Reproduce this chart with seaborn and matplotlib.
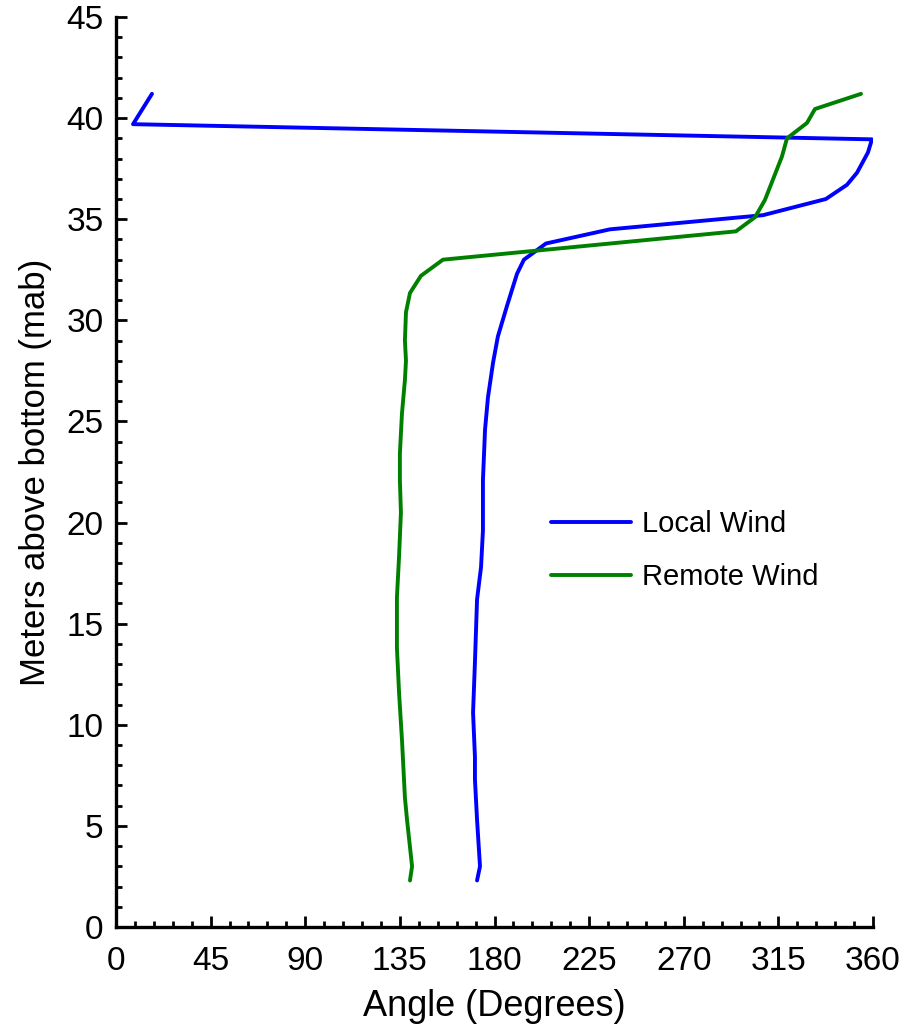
import numpy as np
import pandas as pd
import matplotlib
matplotlib.use("Agg")
import matplotlib.pyplot as plt
from matplotlib.ticker import MultipleLocator
import seaborn as sns

# ---- data ----
local_depth = [2.3, 3.0, 5.3, 7.3, 8.4, 10.6, 13.1, 16.2, 17.8, 19.6, 22.1, 24.6,
               26.2, 27.9, 29.2, 30.7, 32.3, 33.0, 33.8, 34.5, 35.2, 36.0, 36.7,
               37.3, 38.3, 38.95, 39.7, 41.2]
local_angle = [171.7, 173.1, 171.7, 170.7, 170.7, 169.8, 170.7, 171.7, 173.6, 174.5,
               174.5, 175.5, 176.9, 179.3, 181.6, 185.9, 190.7, 194.0, 204.5, 234.9,
               307.7, 337.6, 347.6, 352.4, 357.6, 359.5, 8.1, 17.1]

remote_depth = [2.3, 3.0, 5.3, 6.4, 9.25, 11.6, 13.8, 16.3, 18.3, 20.5, 22.1, 23.4,
                25.4, 27.05, 28.0, 29.0, 30.4, 31.35, 32.2, 33.0, 34.4, 35.1, 35.95,
                38.1, 39.0, 39.76, 40.45, 41.2]
remote_angle = [139.8, 140.8, 138.4, 137.4, 136.0, 134.6, 133.6, 133.6, 134.6, 135.5,
                135.0, 135.0, 136.0, 137.4, 137.9, 137.4, 137.9, 139.8, 145.0, 155.5,
                294.8, 303.9, 308.6, 316.7, 319.1, 328.6, 332.4, 354.3]

series_names = ["Local Wind", "Remote Wind"]
series_colors = ["#0000ff", "#008000"]

x_ticks = [0, 45, 90, 135, 180, 225, 270, 315, 360]
y_ticks = [0, 5, 10, 15, 20, 25, 30, 35, 40, 45]

df = pd.concat([
    pd.DataFrame({"angle": local_angle, "depth": local_depth, "series": series_names[0]}),
    pd.DataFrame({"angle": remote_angle, "depth": remote_depth, "series": series_names[1]}),
], ignore_index=True)

sns.set_style("ticks")
plt.rcParams["font.family"] = ["Liberation Sans", "DejaVu Sans"]
plt.rcParams["text.color"] = "black"
plt.rcParams["axes.labelcolor"] = "black"

fig = plt.figure(figsize=(9.08, 10.32), dpi=100)
ax = fig.add_axes([116 / 908, 105 / 1032, 757 / 908, 910 / 1032])

sns.lineplot(data=df, x="angle", y="depth", hue="series", sort=False, estimator=None,
             palette=dict(zip(series_names, series_colors)), linewidth=2.8, ax=ax)

ax.set_xlim(0, 360)
ax.set_ylim(0, 45)
ax.set_xticks(x_ticks)
ax.set_yticks(y_ticks)
ax.xaxis.set_minor_locator(MultipleLocator(9))
ax.yaxis.set_minor_locator(MultipleLocator(1))
ax.tick_params(which="major", direction="in", length=8, width=2.0, labelsize=24, pad=9,
               color="black", labelcolor="black")
ax.tick_params(axis="x", which="major", pad=14)
ax.tick_params(which="minor", direction="in", length=4, width=2.0, color="black")
for s in ["top", "right"]:
    ax.spines[s].set_visible(False)
for s in ["left", "bottom"]:
    ax.spines[s].set_linewidth(2.4)
    ax.spines[s].set_color("black")

ax.set_xlabel("Angle (Degrees)", fontsize=26, labelpad=8)
ax.set_ylabel("Meters above bottom (mab)", fontsize=25, labelpad=10)

leg = ax.legend(loc="upper left", bbox_to_anchor=(0.574, 0.458), frameon=False,
                fontsize=21, handlelength=2.75, handletextpad=0.4, labelspacing=0.85,
                borderpad=0, borderaxespad=0)
for line in leg.get_lines():
    line.set_linewidth(2.8)
for t in leg.get_texts():
    t.set_color("black")

fig.savefig("out.png", dpi=100, facecolor="white")
